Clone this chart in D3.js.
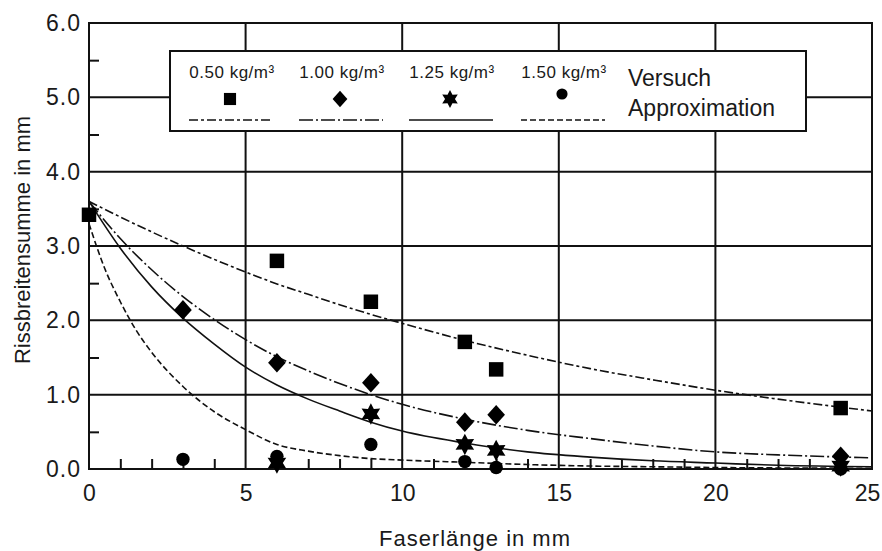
<!DOCTYPE html>
<html>
<head>
<meta charset="utf-8">
<script src="https://cdn.jsdelivr.net/npm/d3@7"></script>
<style>
  body { margin: 0; background: #fff; }
  text { font-family: "Liberation Sans", Arial, sans-serif; fill: #1a1a1a; }
</style>
</head>
<body>
<div id="chart"></div>
<script>
// Data
var seriesNames = ["0.50 kg/m³", "1.00 kg/m³", "1.25 kg/m³", "1.50 kg/m³"];

// measured points (Versuch)
var pts050 = [[0, 3.42], [6, 2.80], [9, 2.25], [12, 1.71], [13, 1.34], [24, 0.82]];
var pts100 = [[3, 2.14], [6, 1.43], [9, 1.16], [12, 0.63], [13, 0.73], [24, 0.17]];
var pts125 = [[6, 0.08], [9, 0.74], [12, 0.33], [13, 0.25], [24, 0.04]];
var pts150 = [[3, 0.13], [6, 0.17], [9, 0.33], [12, 0.10], [13, 0.02], [24, 0.0]];

// approximation curves
var fit050 = [[0, 3.6], [1, 3.39], [2, 3.19], [3, 3.00], [4, 2.82], [5, 2.65], [6, 2.49], [7, 2.35], [8, 2.21],
  [9, 2.08], [10, 1.96], [12, 1.73], [14, 1.53], [16, 1.35], [18, 1.20], [20, 1.06], [22, 0.94], [25, 0.78]];
var fit100 = [[0, 3.6], [1, 3.10], [2, 2.68], [3, 2.32], [4, 2.01], [5, 1.74], [6, 1.51], [7, 1.32], [8, 1.15],
  [9, 1.00], [10, 0.87], [12, 0.67], [14, 0.52], [16, 0.41], [18, 0.31], [20, 0.23], [22, 0.19], [25, 0.15]];
var fit125 = [[0, 3.6], [1, 2.97], [2, 2.45], [3, 2.03], [4, 1.68], [5, 1.37], [6, 1.13], [7, 0.94], [8, 0.78],
  [9, 0.63], [10, 0.51], [12, 0.35], [14, 0.23], [16, 0.16], [18, 0.11], [20, 0.08], [22, 0.05], [25, 0.03]];
var fit150 = [[0, 3.3], [0.5, 2.7], [1, 2.25], [1.5, 1.87], [2, 1.57], [3, 1.11], [4, 0.77], [5, 0.53], [6, 0.33],
  [7, 0.24], [8, 0.18], [9, 0.14], [10, 0.12], [12, 0.09], [14, 0.06], [16, 0.04], [18, 0.03], [20, 0.02], [25, 0.01]];

var xTicks = [0, 5, 10, 15, 20, 25];
var yTicks = [0, 1, 2, 3, 4, 5, 6];

// Chart Params
var svgWidth = 882;
var svgHeight = 551;
var margin = { top: 23, right: 10, bottom: 82, left: 89 };
var width = 872 - margin.left;
var height = 469 - margin.top;

var svg = d3.select("#chart")
  .append("svg")
  .attr("width", svgWidth)
  .attr("height", svgHeight);

var chartGroup = svg.append("g")
  .attr("transform", `translate(${margin.left}, ${margin.top})`);

var x = d3.scaleLinear().domain([0, 25]).range([0, width]);
var y = d3.scaleLinear().domain([0, 6]).range([height, 0]);

// grid lines
chartGroup.selectAll(".vgrid")
  .data(xTicks.slice(1, -1))
  .enter()
  .append("line")
  .attr("x1", d => x(d)).attr("x2", d => x(d))
  .attr("y1", 0).attr("y2", height)
  .attr("stroke", "#111").attr("stroke-width", 2);

chartGroup.selectAll(".hgrid")
  .data(yTicks.slice(1, -1))
  .enter()
  .append("line")
  .attr("x1", 0).attr("x2", width)
  .attr("y1", d => y(d)).attr("y2", d => y(d))
  .attr("stroke", "#111").attr("stroke-width", 2);

// minor ticks (inside)
var xMinor = d3.range(1, 25).filter(d => d % 5 !== 0);
var yMinor = d3.range(0.5, 6, 1);

chartGroup.append("g")
  .attr("transform", `translate(0, ${height})`)
  .call(d3.axisBottom(x).tickValues(xMinor).tickSize(-10).tickFormat(""))
  .call(g => g.select(".domain").remove())
  .selectAll("line").attr("stroke", "#111").attr("stroke-width", 2);

chartGroup.append("g")
  .call(d3.axisLeft(y).tickValues(yMinor).tickSize(-10).tickFormat(""))
  .call(g => g.select(".domain").remove())
  .selectAll("line").attr("stroke", "#111").attr("stroke-width", 2);

// border
chartGroup.append("rect")
  .attr("width", width).attr("height", height)
  .attr("fill", "none").attr("stroke", "#111").attr("stroke-width", 2);

// tick labels
var bottomAxis = d3.axisBottom(x).tickValues(xTicks).tickSize(0).tickPadding(16);
var leftAxis = d3.axisLeft(y).tickValues(yTicks).tickSize(0).tickPadding(8).tickFormat(d3.format(".1f"));

chartGroup.append("g")
  .attr("transform", `translate(0, ${height})`)
  .call(bottomAxis)
  .call(g => g.select(".domain").remove())
  .selectAll("text")
  .attr("font-size", "23px").attr("font-family", "Liberation Sans, Arial, sans-serif")
  .attr("fill", "#1a1a1a")
  .attr("dx", d => d === 25 ? -5 : 0);

chartGroup.append("g")
  .call(leftAxis)
  .call(g => g.select(".domain").remove())
  .selectAll("text")
  .attr("font-size", "23px").attr("font-family", "Liberation Sans, Arial, sans-serif")
  .attr("fill", "#1a1a1a").attr("letter-spacing", "1px");

// curves
var lineStyles = ["9,3,3,3", "14,3,2,3", null, "6,3"];
var fits = [fit050, fit100, fit125, fit150];

var line = d3.line()
  .x(d => x(d[0]))
  .y(d => y(d[1]))
  .curve(d3.curveMonotoneX);

chartGroup.selectAll(".fit")
  .data(fits)
  .enter()
  .append("path")
  .attr("d", line)
  .attr("fill", "none")
  .attr("stroke", "#111")
  .attr("stroke-width", 1.6)
  .attr("stroke-dasharray", (d, i) => lineStyles[i]);

// symbols
var star6 = {
  draw: function(ctx, size) {
    var r = Math.sqrt(size) * 0.62, r2 = r * 0.55;
    for (var k = 0; k < 12; k++) {
      var a = Math.PI / 6 * k - Math.PI / 2;
      var rr = k % 2 === 0 ? r : r2;
      if (k === 0) ctx.moveTo(rr * Math.cos(a), rr * Math.sin(a));
      else ctx.lineTo(rr * Math.cos(a), rr * Math.sin(a));
    }
    ctx.closePath();
  }
};
var fatDiamond = {
  draw: function(ctx, size) {
    var h = Math.sqrt(size) * 0.62, w = h * 0.9;
    ctx.moveTo(0, -h);
    ctx.lineTo(w, 0);
    ctx.lineTo(0, h);
    ctx.lineTo(-w, 0);
    ctx.closePath();
  }
};
var symbols = [d3.symbolSquare, fatDiamond, star6, d3.symbolCircle];
var symSizes = [210, 250, 300, 140];
var pts = [pts050, pts100, pts125, pts150];

pts.forEach(function(data, i) {
  chartGroup.selectAll(null)
    .data(data)
    .enter()
    .append("path")
    .attr("transform", d => `translate(${x(d[0])}, ${y(d[1])})`)
    .attr("d", d3.symbol().type(symbols[i]).size(symSizes[i]))
    .attr("fill", "#000");
});

// legend
var legend = svg.append("g");
legend.append("rect")
  .attr("x", 170).attr("y", 51).attr("width", 636).attr("height", 80)
  .attr("fill", "#fff").attr("stroke", "#111").attr("stroke-width", 2);

var legX = [232, 342, 452, 564];
seriesNames.forEach(function(name, i) {
  legend.append("text")
    .attr("x", legX[i]).attr("y", 78)
    .attr("text-anchor", "middle")
    .attr("font-size", "17px")
    .attr("letter-spacing", "0.5px")
    .text(name);
  legend.append("path")
    .attr("transform", `translate(${legX[i] - 2}, ${i === 3 ? 94 : 99})`)
    .attr("d", d3.symbol().type(symbols[i]).size(symSizes[i] * 0.7))
    .attr("fill", "#000");
  legend.append("line")
    .attr("x1", legX[i] - 43).attr("x2", legX[i] + 41)
    .attr("y1", 120).attr("y2", 120)
    .attr("stroke", "#111").attr("stroke-width", 1.6)
    .attr("stroke-dasharray", lineStyles[i]);
});

legend.append("text")
  .attr("x", 628).attr("y", 86)
  .attr("font-size", "23px")
  .text("Versuch");
legend.append("text")
  .attr("x", 628).attr("y", 116)
  .attr("font-size", "23px")
  .text("Approximation");

// axis labels
svg.append("text")
  .attr("transform", "rotate(-90)")
  .attr("x", -240)
  .attr("y", 30)
  .attr("text-anchor", "middle")
  .attr("font-size", "22px")
  .text("Rissbreitensumme in mm");

svg.append("text")
  .attr("x", 475)
  .attr("y", 546)
  .attr("text-anchor", "middle")
  .attr("font-size", "22px")
  .attr("letter-spacing", "1px")
  .text("Faserlänge in mm");
</script>
</body>
</html>
